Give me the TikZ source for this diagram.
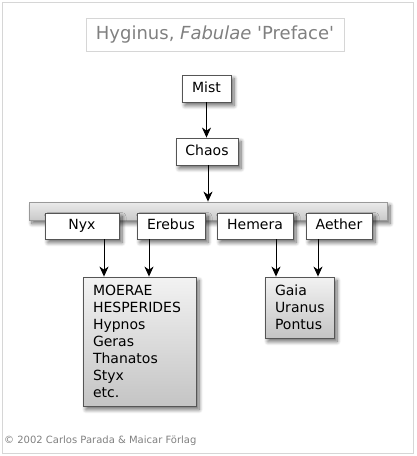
\documentclass[tikz,border=0pt]{standalone}
\usepackage{fontspec}
\setmainfont{DejaVu Sans}
\newfontfamily\plainfont{DejaVu Sans}
\usetikzlibrary{arrows.meta,shadows.blur}
\definecolor{frame}{HTML}{D6D6D6}
\definecolor{titlegray}{HTML}{808080}
\definecolor{boxline}{HTML}{555555}
\tikzset{
  shade/.style={blur shadow={shadow xshift=3pt,shadow yshift=-3.5pt,shadow blur steps=8,shadow blur radius=4pt,shadow opacity=60}},
  person/.style={draw=boxline,line width=0.8pt,fill=white,inner sep=0pt,text height=10pt,text depth=3pt,font=\fontsize{14}{17}\selectfont,shade},
  groupbox/.style={draw=boxline,line width=0.8pt,top color=white!95!black,bottom color=black!23,inner xsep=10pt,inner ysep=0pt,align=left,font=\fontsize{14}{17}\selectfont,shade},
  arr/.style={line width=1pt,-{Stealth[length=10pt,width=9pt,inset=3pt]}},
}
\begin{document}
\begin{tikzpicture}[x=1pt,y=-1pt]
\useasboundingbox (0,0) rectangle (417,456);
\node[draw=frame,line width=0.8pt,minimum width=411pt,minimum height=451pt,inner sep=0pt] (frame) at (208,227.5) {};
\node[draw=frame,line width=0.8pt,minimum width=258pt,minimum height=33pt,inner sep=0pt,text=titlegray,font=\plainfont\fontsize{18}{20}\selectfont] (title) at (215,34.5) {Hyginus, \textit{Fabulae} 'Preface'};
\node[person,minimum width=49pt,minimum height=27pt] (mist) at (206.5,88.5) {Mist};
\node[person,minimum width=62pt,minimum height=27pt] (chaos) at (207,151.5) {Chaos};
\node[draw=black!40,line width=0.8pt,top color=black!8,bottom color=black!21,minimum width=358pt,minimum height=18pt,inner sep=0pt,shade] (bar) at (208,211) {};
\node[person,minimum width=74pt,minimum height=26pt] (nyx) at (82,226) {Nyx};
\node[person,minimum width=68pt,minimum height=26pt] (erebus) at (171,226) {Erebus};
\node[person,minimum width=76pt,minimum height=26pt] (hemera) at (255,226) {Hemera};
\node[person,minimum width=66pt,minimum height=26pt] (aether) at (339,226) {Aether};
\node[groupbox,text width=93pt,minimum height=129pt] (nyxkids) at (139.5,341.5) {MOERAE\\HESPERIDES\\Hypnos\\Geras\\Thanatos\\Styx\\etc.};
\node[groupbox,text width=49pt,minimum height=61pt] (gaiakids) at (299.5,307.5) {Gaia\\Uranus\\Pontus};
\draw[arr] (mist) -- (mist.south |- chaos.north);
\draw[arr] ([xshift=1pt]chaos.south) -- ([xshift=1pt]chaos.south |- bar.north);
\draw[arr] ([xshift=22pt]nyx.south) -- ([xshift=22pt]nyx.south |- nyxkids.north);
\draw[arr] ([xshift=-22pt]erebus.south) -- ([xshift=-22pt]erebus.south |- nyxkids.north);
\draw[arr] ([xshift=21pt]hemera.south) -- ([xshift=21pt]hemera.south |- gaiakids.north);
\draw[arr] ([xshift=-21pt]aether.south) -- ([xshift=-21pt]aether.south |- gaiakids.north);
\node[anchor=base west,inner sep=0pt,text=titlegray,font=\fontsize{10}{12}\selectfont] (copy) at (4,443) {© 2002 Carlos Parada \& Maicar Förlag};
\end{tikzpicture}
\end{document}
